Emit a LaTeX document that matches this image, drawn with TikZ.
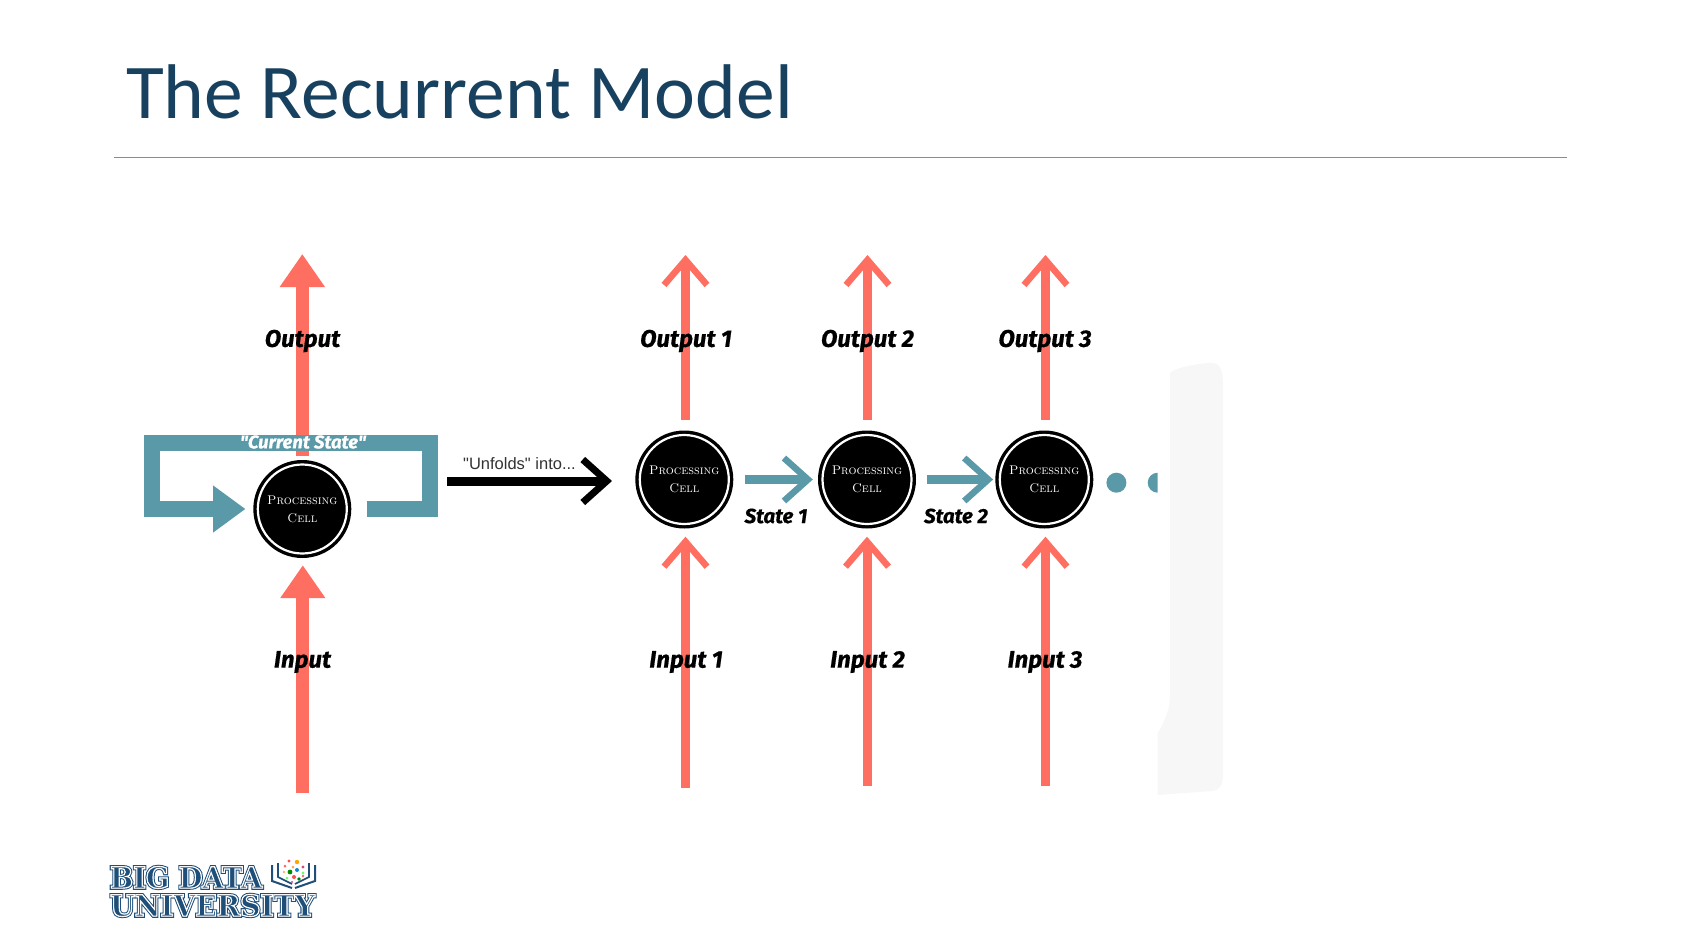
\documentclass[tikz,border=0pt]{standalone}
\usepackage{fontspec}
\usetikzlibrary{arrows.meta}
\newfontfamily\titlefont{Carlito}
\newfontfamily\labelfont[FakeBold=0.6]{Fira Sans}
\newfontfamily\plainfont{Liberation Sans}
\newfontfamily\logofont{DejaVu Serif}
\newfontfamily\logofat[BoldFeatures={FakeBold=12}]{DejaVu Serif}
\newfontfamily\logomid[BoldFeatures={FakeBold=5}]{DejaVu Serif}
\newfontfamily\logothin[BoldFeatures={FakeBold=3}]{DejaVu Serif}
\definecolor{titleblue}{HTML}{17415F}
\definecolor{ruleblue}{HTML}{5F9BB8}
\definecolor{coral}{HTML}{FF6F61}
\definecolor{tealbar}{HTML}{5A9AA8}
\definecolor{logoblue}{HTML}{1F4E79}
\newcommand{\logocore}[1]{\special{pdf:bcolor [0.12 0.31 0.47][1 1 1]}#1\special{pdf:ecolor}}
\begin{document}
\begin{tikzpicture}[x=1pt,y=-1pt,
  cellnode/.style={circle,fill=black,minimum size=98pt,inner sep=0pt,text=white,align=center,
    font=\fontsize{12.6}{18}\selectfont\scshape,
    path picture={\draw[white,line width=2.2pt] (path picture bounding box.center) circle (44.5pt);}},
  tagnode/.style={font=\fontsize{24}{28}\labelfont\bfseries\itshape,inner sep=0pt},
  redbig/.style={coral,line width=12.7pt,-{Triangle[length=33pt,width=43pt]}},
  redopen/.style={coral,line width=9pt,-{Straight Barb[length=25pt,width=43pt,line width=6.5pt]}},
  tealopen/.style={tealbar,line width=9.3pt,-{Straight Barb[length=24pt,width=43pt,line width=6.5pt]}},
  dotnode/.style={circle,fill=tealbar,minimum size=20pt,inner sep=0pt},
  logonode/.style={inner sep=0pt,anchor=base west}]
\useasboundingbox (0,0) rectangle (1681,945);
\node[inner sep=0pt,anchor=base west,text=titleblue,font=\fontsize{77.5}{84}\titlefont] (title) at (126,118) {The Recurrent Model};
\coordinate (ruleA) at (114,157.5);
\coordinate (ruleB) at (1567,157.5);
\draw[ruleblue,line width=1.5pt] (ruleA) -- (ruleB);
% pale patch at the right
\fill[black!3] (1170,373) .. controls (1172,368) and (1205,362) .. (1213,363) .. controls (1221,364) and (1223,372) .. (1223,385) -- (1223,770) .. controls (1223,785) and (1222,789) .. (1212,791) -- (1157.7,795) -- (1157.7,733) .. controls (1162,726) and (1170,712) .. (1170,695) -- cycle;
% cells
\node[cellnode] (cell0) at (302.3,509) {Processing\\Cell};
\node[cellnode] (cell1) at (684.3,479.5) {Processing\\Cell};
\node[cellnode] (cell2) at (867,479.5) {Processing\\Cell};
\node[cellnode] (cell3) at (1044.3,479.5) {Processing\\Cell};
\coordinate (outT0) at (302.3,254);
\coordinate (outT1) at (685.5,255);
\coordinate (outT2) at (867.5,255);
\coordinate (outT3) at (1045.5,255);
\coordinate (inB0) at (302.8,793);
\coordinate (inB1) at (685.5,788);
\coordinate (inB2) at (867,786);
\coordinate (inB3) at (1045.5,786);
% left cell
\draw[redbig,shorten <=4pt] (cell0) -- (outT0);
\draw[redbig,shorten >=7pt] (inB0) -- (inB0 |- cell0.south);
\coordinate (loopA) at (366.7,509);
\coordinate (loopB) at (429.5,509);
\coordinate (loopC) at (429.5,443);
\coordinate (loopD) at (151.5,443);
\coordinate (loopE) at (151.5,509);
\draw[tealbar,line width=16pt,shorten >=7.6pt,-{Triangle[length=32.5pt,width=45pt]}] (loopA) -- (loopB) -- (loopC) -- (loopD) -- (loopE) -- (cell0);
\node[inner sep=0pt,text=white,font=\fontsize{18.5}{22}\labelfont\bfseries\itshape] (current) at (303,442) {"Current State"};
% unfolds
\coordinate (unfoldA) at (447,481);
\coordinate (unfoldB) at (612,481);
\draw[black,line width=9pt,-{Straight Barb[length=24pt,width=43pt,line width=7pt]}] (unfoldA) -- (unfoldB);
\node[inner sep=0pt,anchor=base west,text=black!80,font=\fontsize{16.5}{20}\plainfont] (unfolds) at (463,469) {"Unfolds" into...};
% up and down arrows
\draw[redopen,shorten <=10pt] (cell1.north -| outT1) -- (outT1);
\draw[redopen,shorten <=10pt] (cell2.north -| outT2) -- (outT2);
\draw[redopen,shorten <=10pt] (cell3.north -| outT3) -- (outT3);
\draw[redopen,shorten >=8pt] (inB1) -- (inB1 |- cell1.south);
\draw[redopen,shorten >=8pt] (inB2) -- (inB2 |- cell2.south);
\draw[redopen,shorten >=8pt] (inB3) -- (inB3 |- cell3.south);
\draw[tealopen,shorten <=11pt,shorten >=5pt] (cell1) -- (cell2);
\draw[tealopen,shorten <=11pt,shorten >=2pt] (cell2) -- (cell3);
\node[dotnode] (dotA) at (1116.4,482.7) {};
\begin{scope}
\clip (1140,465) rectangle (1157.7,500);
\node[dotnode] (dotB) at (1157.7,482.7) {};
\end{scope}
% labels
\node[tagnode] (output0) at (302.5,341) {Output};
\node[tagnode] (output1) at (686,341) {Output 1};
\node[tagnode] (output2) at (867.5,341) {Output 2};
\node[tagnode] (output3) at (1045,341) {Output 3};
\node[tagnode] (input0) at (302.5,662) {Input};
\node[tagnode] (input1) at (686,662) {Input 1};
\node[tagnode] (input2) at (867.5,662) {Input 2};
\node[tagnode] (input3) at (1045,662) {Input 3};
\node[tagnode,font=\fontsize{20.5}{24}\labelfont\bfseries\itshape] (state1) at (776,516) {State 1};
\node[tagnode,font=\fontsize{20.5}{24}\labelfont\bfseries\itshape] (state2) at (956,516) {State 2};
% logo
\node[logonode,text=logoblue,font=\fontsize{29}{30}\logofat\bfseries\addfontfeature{FakeStretch=0.94}] (logoA) at (110,888) {BIG DATA};
\node[logonode,text=white,font=\fontsize{29}{30}\logomid\bfseries\addfontfeature{FakeStretch=0.94}] (logoAw) at (110,888) {BIG DATA};
\node[logonode,font=\fontsize{29}{30}\logothin\bfseries\addfontfeature{FakeStretch=0.94}] (logoAc) at (110,888) {\logocore{BIG DATA}};
\node[logonode,text=logoblue,font=\fontsize{29}{30}\logofat\bfseries\addfontfeature{FakeStretch=0.97}] (logoB) at (110,916) {UNIVERSITY};
\node[logonode,text=white,font=\fontsize{29}{30}\logomid\bfseries\addfontfeature{FakeStretch=0.97}] (logoBw) at (110,916) {UNIVERSITY};
\node[logonode,font=\fontsize{29}{30}\logothin\bfseries\addfontfeature{FakeStretch=0.97}] (logoBc) at (110,916) {\logocore{UNIVERSITY}};
\draw[logoblue,line width=2pt] (272,865) -- (272,881) -- (292,888);
\draw[logoblue,line width=2pt] (315,865) -- (315,881) -- (295,888);
\draw[logoblue,line width=1.6pt] (278,863) -- (278,877) -- (292,884);
\draw[logoblue,line width=1.6pt] (309,863) -- (309,877) -- (295,884);
\fill[red!70] (289,861) circle (1.6);
\fill[orange!70!yellow] (297,862) circle (2.2);
\fill[red!60] (285,866) circle (1.5);
\fill[orange!70] (293,867) circle (1.5);
\fill[purple!70] (303,867) circle (1.6);
\fill[green!55!black] (290,872) circle (2.4);
\fill[cyan!70!blue] (297,870) circle (2);
\fill[orange!60] (284,872) circle (1.3);
\fill[green!60] (303,873) circle (1.6);
\fill[red!70] (294,877) circle (2);
\fill[green!50!black] (299,879) circle (1.8);
\fill[green!60] (287,878) circle (1.5);
\fill[purple!70] (292,882) circle (1.2);
\fill[red!60] (303,876) circle (1.3);
\end{tikzpicture}
\end{document}
